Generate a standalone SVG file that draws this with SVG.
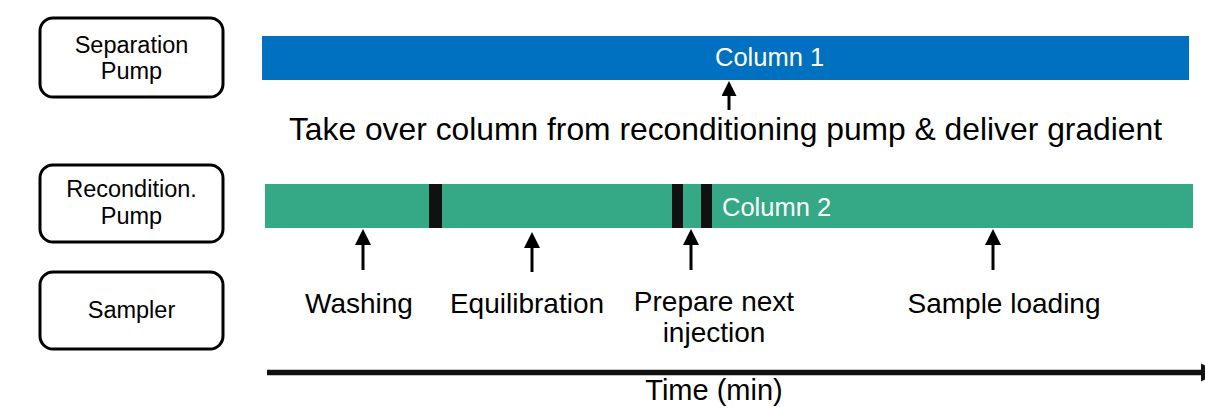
<svg xmlns="http://www.w3.org/2000/svg" width="1205" height="408" viewBox="0 0 1205 408">
<style>
.box{fill:#fff;stroke:#000;stroke-width:3}
.bt{font-family:"Liberation Sans",Arial,sans-serif;font-size:23.5px;fill:#000;text-anchor:middle}
.lbl{font-family:"Liberation Sans",Arial,sans-serif;font-size:28px;fill:#000;text-anchor:middle}
.col{font-family:"Liberation Sans",Arial,sans-serif;font-size:25.5px;fill:#fff}
.big{font-family:"Liberation Sans",Arial,sans-serif;font-size:31.8px;fill:#000;text-anchor:middle}
.arr{stroke:#000;stroke-width:3;fill:none}
.mk{fill:#111}
</style>
<defs>
<marker id="ah" markerUnits="userSpaceOnUse" markerWidth="16" markerHeight="16" viewBox="0 0 16 16" refX="1" refY="8" orient="auto">
<path d="M0,0 L16,8 L0,16 z" fill="#000"/>
</marker>
<marker id="ahs" markerUnits="userSpaceOnUse" markerWidth="15" markerHeight="15" viewBox="0 0 15 15" refX="1" refY="7.5" orient="auto">
<path d="M0,0 L15,7.5 L0,15 z" fill="#000"/>
</marker>
</defs>
<g id="sep-pump">
<rect class="box" x="40" y="18" width="183" height="79" rx="13"/>
<text class="bt" x="131.5" y="53">Separation</text>
<text class="bt" x="131.5" y="79">Pump</text>
</g>
<g id="recond-pump">
<rect class="box" x="40" y="165" width="183" height="77" rx="13"/>
<text class="bt" x="131.5" y="197">Recondition.</text>
<text class="bt" x="131.5" y="224">Pump</text>
</g>
<g id="sampler">
<rect class="box" x="40" y="272" width="183" height="77" rx="13"/>
<text class="bt" x="131.5" y="318">Sampler</text>
</g>
<g id="column1">
<rect x="262" y="36" width="927" height="44" fill="#0070C0"/>
<text class="col" x="715" y="66">Column 1</text>
</g>
<g id="column2">
<rect x="265" y="184" width="928" height="44" fill="#35A886"/>
<rect class="mk" x="429" y="184" width="13" height="44"/>
<rect class="mk" x="672" y="184" width="11" height="44"/>
<rect class="mk" x="701" y="184" width="11" height="44"/>
<text class="col" x="722" y="216">Column 2</text>
</g>
<g id="labels">
<text class="big" x="725.5" y="139.5">Take over column from reconditioning pump &amp; deliver gradient</text>
<text class="lbl" x="359" y="313">Washing</text>
<text class="lbl" x="527" y="313">Equilibration</text>
<text class="lbl" x="714" y="311">Prepare next</text>
<text class="lbl" x="714" y="342">injection</text>
<text class="lbl" x="1004" y="313">Sample loading</text>
<text class="lbl" x="714" y="400" style="font-size:29px">Time (min)</text>
</g>
<g id="connectors">
<line class="arr" x1="729" y1="110" x2="729" y2="95" marker-end="url(#ahs)"/>
<line class="arr" x1="363" y1="270" x2="363" y2="244" marker-end="url(#ah)"/>
<line class="arr" x1="532" y1="272" x2="532" y2="247" marker-end="url(#ah)"/>
<line class="arr" x1="691" y1="270" x2="691" y2="244" marker-end="url(#ah)"/>
<line class="arr" x1="993" y1="270" x2="993" y2="244" marker-end="url(#ah)"/>
<line x1="267" y1="372.5" x2="1202" y2="372.5" stroke="#111" stroke-width="5.5"/>
<path d="M1201,363.5 L1220,372.5 L1201,381.5 z" fill="#111"/>
</g>
</svg>
